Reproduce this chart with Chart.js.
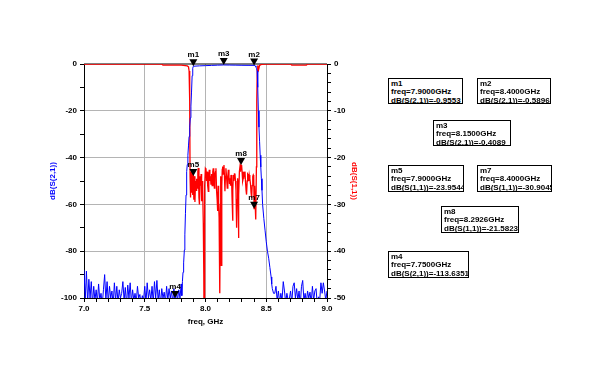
<!DOCTYPE html>
<html><head><meta charset="utf-8">
<script src="https://cdn.jsdelivr.net/npm/chart.js@4.4.1/dist/chart.umd.min.js"></script>
<style>
body{margin:0;background:#fff;}
#wrap{position:relative;width:613px;height:378px;overflow:hidden;}
.mk{position:absolute;border:1px solid #000;background:#fff;font:bold 8px "Liberation Sans",Arial,sans-serif;line-height:8.3px;padding:1px 2px 0 2px;box-sizing:border-box;white-space:nowrap;overflow:hidden;color:#000;}
</style></head><body>
<div id="wrap"><canvas id="c" width="613" height="378"></canvas></div>
<script>
// ---- S21 (blue, left axis) ----
const s21Freq = [
 7.00,7.01,7.02,7.03,7.04,7.05,7.06,7.07,7.08,7.09,
 7.10,7.11,7.12,7.13,7.14,7.15,7.16,7.17,7.18,7.19,
 7.20,7.21,7.22,7.23,7.24,7.25,7.26,7.27,7.28,7.29,
 7.30,7.31,7.32,7.33,7.34,7.35,7.36,7.37,7.38,7.39,
 7.40,7.41,7.42,7.43,7.44,7.45,7.46,7.47,7.48,7.49,
 7.50,7.51,7.52,7.53,7.54,7.55,7.56,7.57,7.58,7.59,
 7.60,7.61,7.62,7.63,7.64,7.65,7.66,7.67,7.68,7.69,
 7.70,7.71,7.72,7.73,7.74,7.75,7.76,7.77,7.78,7.79,
 7.80,
 7.805,7.81,7.815,7.82,7.826,7.83,7.835,7.84,7.845,7.85,7.855,7.86,7.865,7.87,7.875,7.88,7.885,7.89,7.895,7.90,
 7.95,8.00,8.05,8.10,8.15,8.20,8.25,8.30,8.35,8.40,
 8.41,8.415,8.42,8.425,8.43,8.435,8.44,8.445,8.45,8.455,8.46,8.465,8.47,
 8.48,8.49,8.50,8.51,8.52,8.53,8.54,8.545,8.55,8.56,
 8.57,8.58,8.59,8.60,8.61,8.62,8.63,8.64,8.65,8.66,
 8.67,8.68,8.69,8.70,8.71,8.72,8.73,8.74,8.75,8.76,
 8.77,8.78,8.79,8.80,8.81,8.82,8.83,8.84,8.85,8.86,
 8.87,8.88,8.89,8.90,8.91,8.92,8.93,8.94,8.95,8.96,
 8.97,8.98,8.99,9.00
];
const s21dB = [
 -88,-101,-88.5,-102,-92,-100,-93,-103,-95,-101,
 -96.5,-102,-94,-101,-98,-103,-96.5,-90,-101,-93,
 -102,-95,-100,-97,-103,-93.5,-101,-95,-102,-96.5,
 -100,-98,-93,-101,-95.5,-103,-94.5,-100,-93.5,-102,
 -96.5,-101,-98,-102,-95,-100,-98.5,-103,-99,-101,
 -95,-102,-93.5,-100,-96.5,-101,-95,-102,-93,-100,
 -92.5,-101,-96.5,-103,-96,-100,-97.5,-102,-95,-101,
 -96,-100,-97,-102,-96,-103,-97,-101,-96.5,-100,
 -94,
 -99,-93,-89,-85,-79.5,-73,-64,-56,-46,-43,-39,-35,-31,-27,-23,-18,-12,-5,-1.8,-0.96,
 -0.8,-0.7,-0.6,-0.5,-0.41,-0.45,-0.5,-0.55,-0.58,-0.59,
 -0.8,-1.2,-2,-3,-10,-20,-27,-33,-39,-44,-49,-54,-60,
 -66,-71,-76,-80,-83,-87,-91,-94,-96,-98,
 -98,-95,-101,-97,-102,-98,-101,-93,-97,-102,
 -98,-101,-100.5,-97,-102,-95,-93.5,-100,-96,-101,
 -97,-103,-95,-92.5,-101,-98,-102,-97,-100,-97.5,
 -102,-95,-101,-97,-96,-103,-99.5,-101,-93.5,-98,
 -93.5,-97,-101,-97
];
// ---- S11 (red, right axis) as [freq, dB] ----
const s11Points = [
 [7.00,0],[7.30,0],[7.64,0],[7.65,-0.25],[7.80,-0.25],[7.85,-0.4],[7.86,-0.6],[7.865,-1.5],[7.87,-8],
 [7.873,-24],[7.877,-28.5],[7.881,-23],[7.885,-27.5],[7.889,-22.5],[7.893,-28],[7.897,-24.5],[7.900,-23.95],
 [7.904,-29],[7.908,-24],[7.913,-29.5],[7.918,-25],[7.922,-27],[7.927,-24.5],[7.932,-26.5],[7.937,-23],
 [7.941,-22.2],[7.946,-28.5],[7.950,-30],[7.955,-24],[7.960,-26],[7.964,-23.5],[7.968,-29.3],[7.972,-25],
 [7.977,-27],[7.982,-34],[7.986,-45],[7.988,-55],[7.991,-38],[7.995,-26],[7.999,-22.3],[8.004,-22.5],
 [8.008,-25],[8.013,-23],[8.018,-26],[8.023,-27.2],[8.027,-24],[8.031,-22.6],[8.036,-25],[8.041,-24],
 [8.045,-25.8],[8.050,-23.5],[8.055,-26],[8.060,-23],[8.064,-22.3],[8.068,-25],[8.073,-26.5],[8.077,-23.5],
 [8.082,-23],[8.086,-22.3],[8.091,-27],[8.096,-29],[8.100,-31.4],[8.104,-26],[8.108,-30],[8.112,-32.8],
 [8.116,-38],[8.119,-49],[8.122,-30],[8.125,-24],[8.130,-43],[8.134,-26],[8.138,-22.5],[8.141,-21.9],
 [8.146,-23.5],[8.152,-21.6],[8.156,-24],[8.160,-27.2],[8.164,-24],[8.168,-22.3],[8.173,-24],[8.179,-26.5],
 [8.184,-24],[8.188,-22.6],[8.193,-24],[8.197,-25.5],[8.201,-24.4],[8.206,-26],[8.210,-23.7],[8.215,-25],
 [8.219,-29],[8.223,-33.5],[8.226,-27],[8.229,-23.7],[8.233,-25],[8.238,-23.5],[8.242,-23.4],[8.247,-25],
 [8.251,-27],[8.256,-35],[8.260,-29],[8.264,-24.4],[8.268,-25.5],[8.271,-37.2],[8.275,-28],[8.279,-23],
 [8.284,-21.9],[8.288,-23],[8.2926,-21.58],[8.297,-21.6],[8.301,-23],[8.306,-25],[8.311,-24.4],[8.315,-23],
 [8.320,-24],[8.325,-23],[8.329,-25],[8.334,-27],[8.338,-27.9],[8.343,-25],[8.347,-23.5],[8.352,-23.7],
 [8.356,-25],[8.360,-23.7],[8.365,-24.5],[8.371,-25.8],[8.375,-27.5],[8.380,-28.6],[8.384,-26],[8.389,-24],
 [8.393,-23.7],[8.397,-24],[8.400,-30.9],[8.404,-26],[8.408,-29.3],[8.412,-31],[8.415,-33.2],[8.419,-22],
 [8.422,-8],[8.426,-1.5],[8.43,-0.3],[8.437,-1.2],[8.445,-0.3],[8.46,-0.1],[8.50,0],[8.70,0],[8.71,-0.25],
 [8.83,-0.25],[8.84,0],[9.00,0]
];
// ---- markers ----
const markerNames = ['m1','m2','m3','m5','m7','m8','m4'];
const markerFreqs = [7.9,8.4,8.15,7.9,8.4,8.2926,7.75];
const markerVals  = [-0.9553,-0.5896,-0.4089,-23.9544,-30.9045,-21.5823,-113.6351];
const markerTrace = ['S(2,1)','S(2,1)','S(2,1)','S(1,1)','S(1,1)','S(1,1)','S(2,1)'];
// readout box placement (layout only)
const boxPos = [[388,78,75,26],[477,78,74,26],[433,120,78,26],[388,165,76,27],[477,165,75,27],[441,206,78,27],[388,251,81,27]];

const xMajor = ['7.0','7.5','8.0','8.5','9.0'];

const wrap = document.getElementById('wrap');
markerNames.forEach((n,i)=>{
  const d = document.createElement('div');
  d.className='mk';
  const [l,t,w,h]=boxPos[i];
  d.style.left=l+'px';d.style.top=t+'px';d.style.width=w+'px';d.style.height=h+'px';
  d.innerHTML = n+'<br>freq='+markerFreqs[i].toFixed(4)+'GHz<br>dB('+markerTrace[i]+')='+markerVals[i].toFixed(4);
  wrap.appendChild(d);
});

const FONT = {family:'"Liberation Sans", Arial, sans-serif', size:8, weight:'bold'};
const GRID = '#b4b4b4';
const CLEAR = 'rgba(0,0,0,0)';

const framePlugin = {
  id:'frame',
  beforeDatasetsDraw(chart){
    const {ctx, chartArea:a} = chart;
    ctx.save(); ctx.strokeStyle='#000'; ctx.lineWidth=1;
    ctx.beginPath(); ctx.moveTo(a.left, a.top); ctx.lineTo(a.right, a.top); ctx.stroke();
    ctx.restore();
  },
  afterDatasetsDraw(chart){
    const {ctx} = chart;
    const xs = chart.scales.x;
    ctx.save();
    markerNames.forEach((n,i)=>{
      const sc = markerTrace[i]==='S(2,1)' ? chart.scales.y : chart.scales.y2;
      const v = Math.max(markerVals[i], sc.min);
      const px = xs.getPixelForValue(markerFreqs[i]);
      const py = sc.getPixelForValue(v);
      ctx.fillStyle='#000';
      ctx.beginPath(); ctx.moveTo(px, py); ctx.lineTo(px-4, py-7); ctx.lineTo(px+4, py-7); ctx.closePath(); ctx.fill();
      ctx.font='bold 8px "Liberation Sans", Arial, sans-serif';
      ctx.textAlign='center'; ctx.textBaseline='bottom';
      ctx.fillText(n, px, py-7);
    });
    ctx.restore();
  }
};

new Chart(document.getElementById('c'), {
  type:'line',
  data:{datasets:[
    {label:'dB(S(2,1))', data:s21Freq.map((f,i)=>({x:f,y:s21dB[i]})), borderColor:'#0000ff', borderWidth:1, yAxisID:'y', pointRadius:0, tension:0},
    {label:'dB(S(1,1))', data:s11Points.map(p=>({x:p[0],y:p[1]})), borderColor:'#ff0000', borderWidth:1.3, yAxisID:'y2', pointRadius:0, tension:0}
  ]},
  options:{
    responsive:false, animation:false, devicePixelRatio:1,
    layout:{padding:{left:44, top:64, right:250, bottom:47}},
    plugins:{legend:{display:false}, tooltip:{enabled:false}},
    scales:{
      x:{type:'linear', min:7, max:9,
        afterFit(s){s.height=33;},
        ticks:{stepSize:0.1, autoSkip:false, maxRotation:0, padding:2, color:'#000', font:FONT,
          callback(v){const k=Math.round(v*10); return k%5===0 ? xMajor[(k-70)/5] : '';}},
        grid:{color(c){ if(!c.tick) return CLEAR; const k=Math.round(c.tick.value*10); return (k%5===0&&k>70&&k<90)?GRID:CLEAR;}, tickColor:'#000', tickLength:4, lineWidth:1},
        border:{display:true, color:'#000', width:1},
        title:{display:true, text:'freq, GHz', color:'#000', font:FONT, padding:{top:4,bottom:4}}
      },
      y:{position:'left', min:-100, max:0,
        afterFit(s){s.width=40;},
        ticks:{stepSize:10, autoSkip:false, padding:3, color:'#000', font:FONT,
          callback(v){return v%20===0 ? String(v) : '';}},
        grid:{color(c){ if(!c.tick) return CLEAR; const v=c.tick.value; return (v%20===0&&v>-100&&v<0)?GRID:CLEAR;}, tickColor:'#000', tickLength:4, lineWidth:1},
        border:{display:true, color:'#000', width:1},
        title:{display:true, text:'dB(S(2,1))', color:'#0000ff', font:FONT, padding:{top:4,bottom:4}}
      },
      y2:{position:'right', min:-50, max:0,
        afterFit(s){s.width=36;},
        ticks:{stepSize:2, autoSkip:false, padding:3, color:'#000', font:FONT,
          callback(v){return v%10===0 ? String(v) : '';}},
        grid:{drawOnChartArea:false, tickColor:'#000', tickLength:4},
        border:{display:true, color:'#000', width:1},
        title:{display:true, text:'dB(S(1,1))', color:'#ff0000', font:FONT, padding:{top:4,bottom:4}}
      }
    }
  },
  plugins:[framePlugin]
});
</script>
</body></html>
